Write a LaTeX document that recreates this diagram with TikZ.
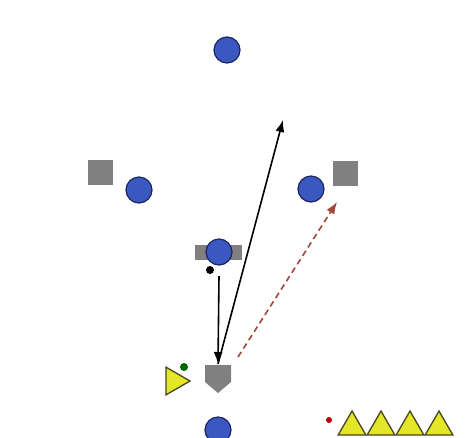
\documentclass[tikz,border=0pt]{standalone}
\usepackage{tikz}
\usepackage{xcolor}
\usetikzlibrary{arrows.meta}
\usetikzlibrary{shapes.geometric}

\definecolor{fieldblue}{RGB}{58,88,192}
\definecolor{navy}{RGB}{28,36,96}
\definecolor{cone}{RGB}{228,230,40}
\definecolor{coneedge}{RGB}{72,70,30}
\definecolor{runred}{RGB}{160,72,58}
\definecolor{basegray}{RGB}{128,128,128}

\tikzset{
  player/.style={circle,draw=navy,fill=fieldblue,line width=1.2pt,minimum size=26pt,inner sep=0pt},
  bag/.style={fill=basegray,minimum size=25pt,inner sep=0pt},
  conetri/.style={regular polygon,regular polygon sides=3,draw=coneedge,fill=cone,line width=1.3pt,minimum size=32pt,inner sep=0pt},
  dot/.style={circle,inner sep=0pt,minimum size=#1},
  throw/.style={-{Latex[length=12pt,width=9pt]},line width=1.6pt},
}

\begin{document}
\begin{tikzpicture}[x=1pt,y=-1pt]
\useasboundingbox[fill=white] (0,0) rectangle (468,437);

% bases
\node[bag] (first) at (345,173) {};
\node[bag] (third) at (100,172) {};
\node[fill=basegray,minimum width=47pt,minimum height=15pt,inner sep=0pt] (second) at (218,252) {};
\fill[basegray] (205,365) -- (231,365) -- (231,382) -- (218,393) -- (205,382) -- cycle;
\coordinate (plate) at (218,364);

% fielders
\node[player] (cf) at (227,50) {};
\node[player] (lf) at (139,190) {};
\node[player] (rf) at (311,189) {};
\node[player] (ss) at (219,252) {};
\node[player] (catcher) at (218,430) {};

% ball, batter, queue
\node[dot=8pt,fill=black] (ball) at (210,270) {};
\node[conetri,rotate=-90] (batter) at (174,381) {};
\node[dot=8pt,fill=green!40!black] (gball) at (184,367) {};
\node[dot=6pt,fill=red!75!black] (rball) at (329,420) {};
\foreach \i/\x in {1/352,2/381,3/410,4/439}
  \node[conetri] (q\i) at (\x,427) {};

% throws and run
\coordinate (relay) at (219,276);
\coordinate (deep) at (283,120);
\coordinate (runfrom) at (238,357);
\coordinate (runto) at (337,202);
\draw[throw] (relay) -- (plate);
\draw[throw] (plate) -- (deep);
\draw[throw,dash pattern=on 6pt off 4pt,runred] (runfrom) -- (runto);
\end{tikzpicture}
\end{document}
